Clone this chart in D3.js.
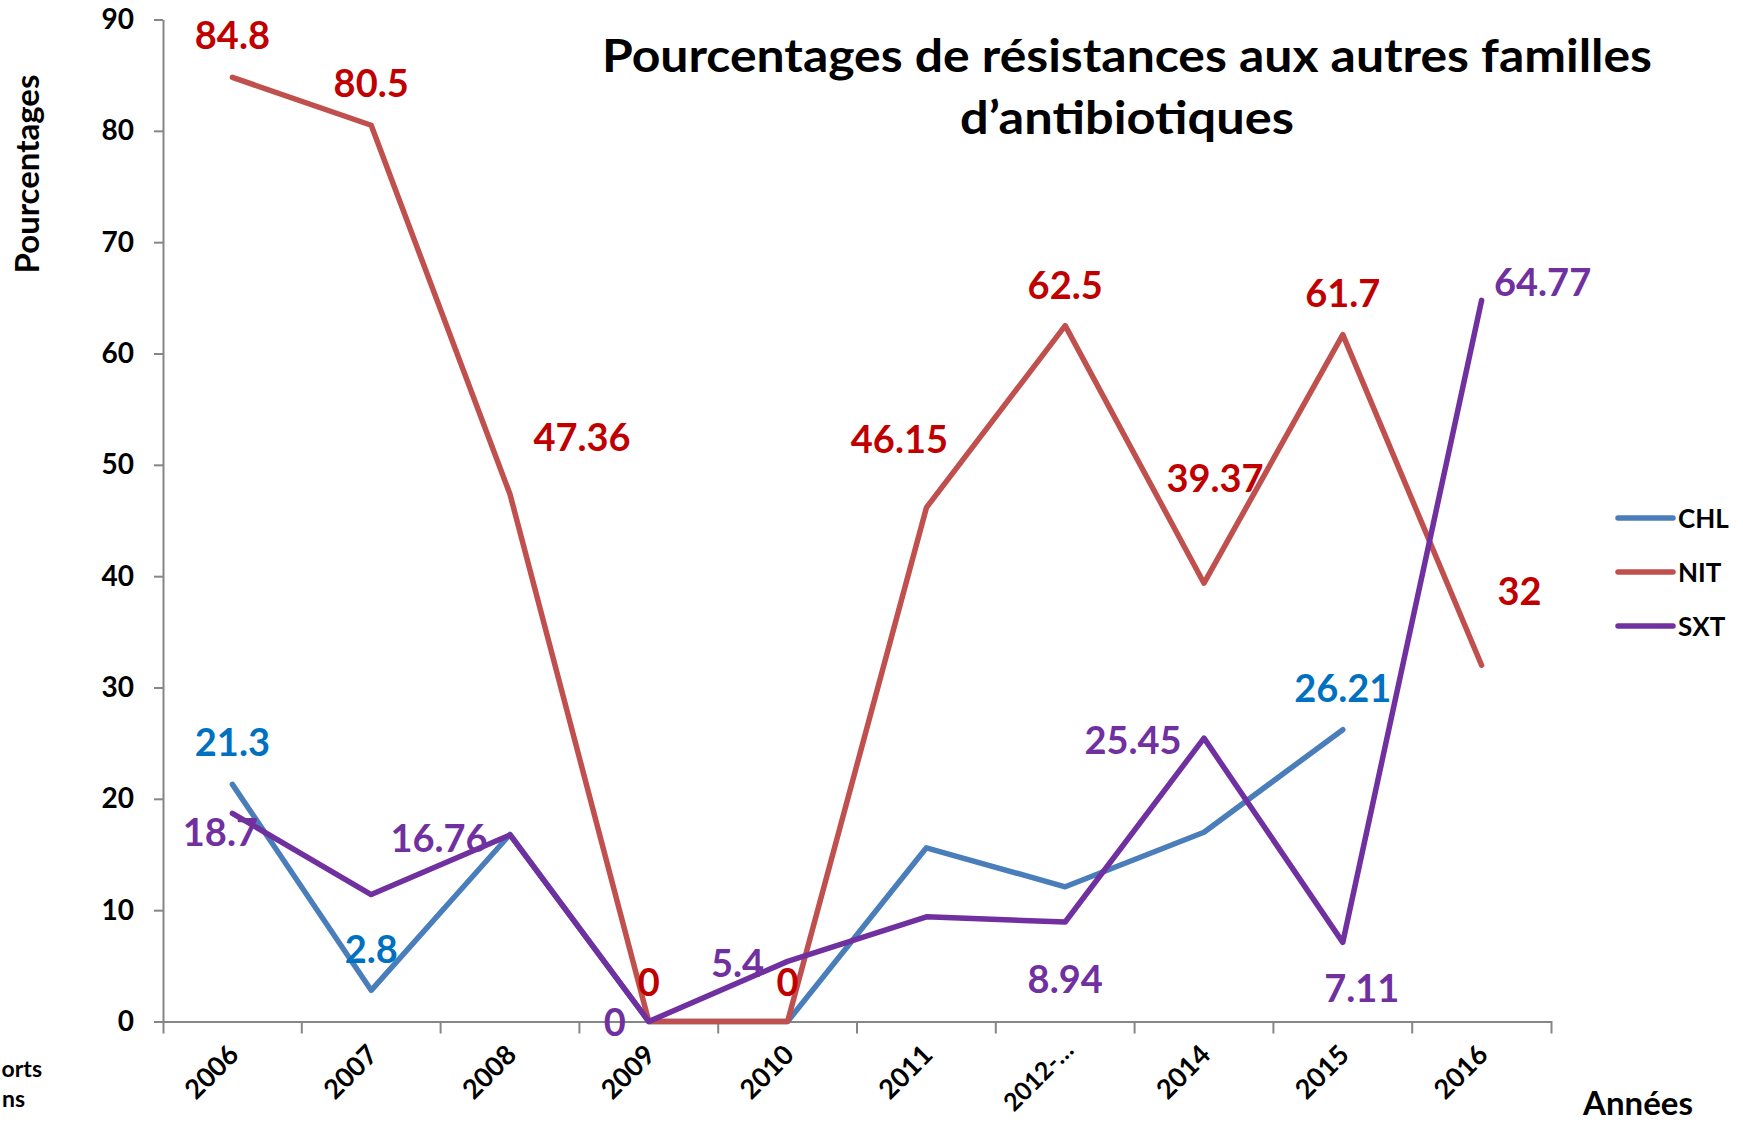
<!DOCTYPE html>
<html>
<head>
<meta charset="utf-8">
<script src="https://cdn.jsdelivr.net/npm/d3@7"></script>
<style>
  body { margin: 0; background: #fff; }
  svg { display: block; font-family: Lato, "Open Sans", sans-serif; font-weight: bold; }
</style>
</head>
<body>
<div id="chart"></div>
<script>
  // categories and series
  const years = ["2006", "2007", "2008", "2009", "2010", "2011", "2012-…", "2014", "2015", "2016"];
  const chl = [21.3, 2.8, 16.8, 0, 0, 15.6, 12.1, 17.0, 26.21, null];
  const nit = [84.8, 80.5, 47.36, 0, 0, 46.15, 62.5, 39.37, 61.7, 32];
  const sxt = [18.7, 11.4, 16.76, 0, 5.4, 9.4, 8.94, 25.45, 7.11, 64.77];

  // which points carry a data label (text shown)
  const chlLabels = ["21.3", "2.8", null, null, null, null, null, null, "26.21", null];
  const nitLabels = ["84.8", "80.5", "47.36", "0", "0", "46.15", "62.5", "39.37", "61.7", "32"];
  const sxtLabels = ["18.7", null, "16.76", "0", "5.4", null, "8.94", "25.45", "7.11", "64.77"];

  const yTicks = [0, 10, 20, 30, 40, 50, 60, 70, 80, 90];

  // label offsets from the point (manual placement as in the source chart)
  const chlOffsets = [[0,-43],[0,-42],null,null,null,null,null,null,[0,-43],null];
  const nitOffsets = [[0,-43],[0,-43],[72,-58],[0,-41],[0,-41],[-27,-70],[0,-42],[11,-106],[0,-43],[38,-75]];
  const sxtOffsets = [[-12,18],null,[-71,2],[-34,-1],[-50,1],null,[0,56],[-71,1],[19,45],[61,-19]];

  const width = 1743, height = 1123;
  const svg = d3.select("#chart").append("svg")
      .attr("width", width)
      .attr("height", height);

  const x = d3.scaleBand().domain(years).range([163, 1551]);
  const y = d3.scaleLinear().domain([0, 90]).range([1021.5, 19.5]);
  const cx = d => x(d) + x.bandwidth() / 2;

  const axisColor = "#868686";

  // y axis
  const yAxis = svg.append("g")
      .attr("transform", "translate(163,0)")
      .call(d3.axisLeft(y).tickValues(yTicks).tickSize(9).tickSizeOuter(0).tickPadding(20));
  yAxis.select(".domain").attr("stroke", axisColor).attr("stroke-width", 2);
  yAxis.selectAll(".tick line").attr("stroke", axisColor).attr("stroke-width", 2);
  yAxis.selectAll(".tick text")
      .attr("fill", "#000")
      .style("font-size", "28px")
      .style("font-weight", "bold")
      .style("font-family", "Lato");

  // x axis: ticks between categories, labels rotated
  const xAxis = svg.append("g")
      .attr("transform", "translate(0," + y(0) + ")")
      .call(d3.axisBottom(x).tickSizeInner(0).tickSizeOuter(12));
  xAxis.select(".domain").attr("stroke", axisColor).attr("stroke-width", 2);
  xAxis.selectAll(".tick text")
      .attr("fill", "#000")
      .style("font-size", d => d.length > 4 ? "25px" : "27px")
      .style("font-weight", "bold")
      .style("font-family", "Lato")
      .attr("text-anchor", "end")
      .attr("dy", null)
      .attr("y", null)
      .attr("transform", d => d.length > 4 ? "translate(10,30) rotate(-45)" : "translate(8,35) rotate(-45)");
  xAxis.selectAll(".bound")
      .data(years.slice(1))
      .enter().append("line")
      .attr("class", "bound")
      .attr("x1", d => x(d)).attr("x2", d => x(d))
      .attr("y1", 0).attr("y2", 12)
      .attr("stroke", axisColor).attr("stroke-width", 2);

  // lines
  const series = [
    {name: "CHL", values: chl, labels: chlLabels, offsets: chlOffsets, stroke: "#4A7EBB", text: "#0070C0"},
    {name: "NIT", values: nit, labels: nitLabels, offsets: nitOffsets, stroke: "#C0504D", text: "#C00000"},
    {name: "SXT", values: sxt, labels: sxtLabels, offsets: sxtOffsets, stroke: "#7030A0", text: "#7030A0"}
  ];

  const line = d3.line()
      .defined(d => d.v !== null)
      .x(d => cx(d.year))
      .y(d => y(d.v));

  svg.append("g").selectAll("path")
      .data(series)
      .enter().append("path")
      .attr("d", s => line(years.map((yr, i) => ({year: yr, v: s.values[i]}))))
      .attr("fill", "none")
      .attr("stroke", s => s.stroke)
      .attr("stroke-width", 5.5)
      .attr("stroke-linejoin", "round")
      .attr("stroke-linecap", "round");

  // data labels
  series.forEach(s => {
    const pts = years.map((yr, i) => ({year: yr, v: s.values[i], label: s.labels[i], off: s.offsets[i]}))
        .filter(d => d.label !== null);
    svg.append("g").selectAll("text")
        .data(pts)
        .enter().append("text")
        .attr("x", d => cx(d.year) + d.off[0])
        .attr("y", d => y(d.v) + d.off[1])
        .attr("text-anchor", "middle")
        .attr("dominant-baseline", "central")
        .attr("fill", s.text)
        .style("font-size", "38px")
        .text(d => d.label);
  });

  // title
  const title = svg.append("text")
      .attr("x", 1127)
      .attr("y", 72)
      .attr("text-anchor", "middle")
      .style("font-size", "45px");
  title.append("tspan").attr("x", 1127)
      .attr("textLength", 1050).attr("lengthAdjust", "spacingAndGlyphs")
      .text("Pourcentages de résistances aux autres familles");
  title.append("tspan").attr("x", 1127).attr("dy", 62)
      .attr("textLength", 334).attr("lengthAdjust", "spacingAndGlyphs")
      .text("d’antibiotiques");

  // axis titles
  svg.append("text")
      .attr("transform", "translate(39,174) rotate(-90)")
      .attr("text-anchor", "middle")
      .style("font-size", "33px")
      .text("Pourcentages");

  svg.append("text")
      .attr("x", 1638)
      .attr("y", 1115)
      .attr("text-anchor", "middle")
      .style("font-size", "33px")
      .text("Années");

  // clipped text at bottom-left edge
  svg.append("text")
      .attr("x", 42).attr("y", 1077)
      .attr("text-anchor", "end")
      .style("font-size", "23px")
      .text("orts");
  svg.append("text")
      .attr("x", 25).attr("y", 1107)
      .attr("text-anchor", "end")
      .style("font-size", "23px")
      .text("ns");

  // legend
  const legend = svg.append("g").selectAll("g")
      .data(series)
      .enter().append("g")
      .attr("transform", (d, i) => "translate(1618," + (518 + i * 54) + ")");
  legend.append("line")
      .attr("x1", 0).attr("x2", 55)
      .attr("stroke", d => d.stroke)
      .attr("stroke-width", 5.5)
      .attr("stroke-linecap", "round");
  legend.append("text")
      .attr("x", 60)
      .attr("dominant-baseline", "central")
      .style("font-size", "26px")
      .text(d => d.name);
</script>
</body>
</html>
